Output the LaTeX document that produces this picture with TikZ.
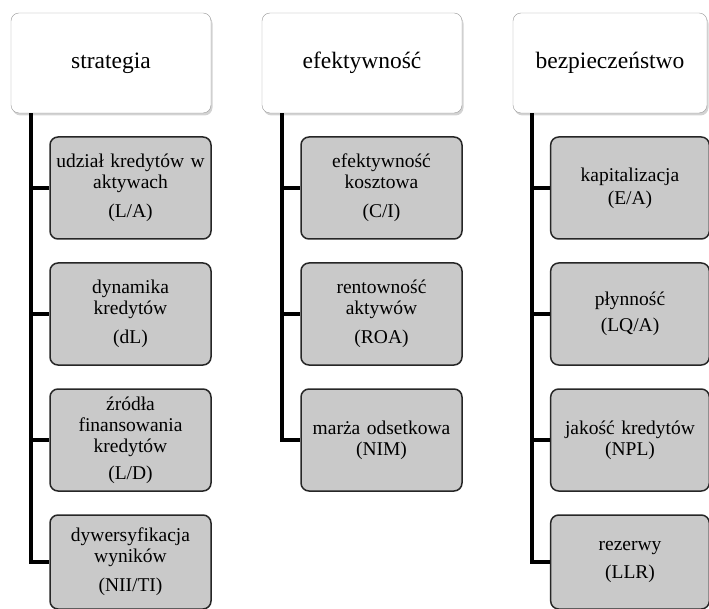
\documentclass[tikz,border=0pt]{standalone}
\usepackage{fontspec}
\setmainfont{Liberation Serif}
\usetikzlibrary{arrows, shapes, positioning, shadows}

\begin{document}
\begin{tikzpicture}[x=1pt, y=1pt]
        \tikzstyle{head} = [draw=black!40, fill=white, rounded corners=8pt, minimum
        width=200pt, minimum height=100pt, font=\fontsize{23.5}{27}\selectfont,
        drop shadow={shadow xshift=1.5pt, shadow yshift=-2.5pt, opacity=0.35}]
        \tikzstyle{block} = [draw=black!85, fill=black!21, line width=1.5pt, rounded corners=8pt,
        minimum width=161pt, minimum height=102pt, text width=152pt, align=center,
        font=\fontsize{19.5}{21}\selectfont, node distance=126pt]
        \useasboundingbox (0,0) rectangle (709,-609);
        %Creating Blocks
        \node [head] at (111,-63) (strategia) {strategia};
        \node [head] at (362,-63) (efekt) {efektywność};
        \node [head, minimum width=194pt] at (610,-63) (bezp) {bezpieczeństwo};

        \node [block] at (130.5,-188) (udzial) {udział kredytów w\\ aktywach\\[8pt] (L/A)};
        \node [block, below of=udzial] (dynamika) {dynamika\\ kredytów\\[8pt] (dL)};
        \node [block, below of=dynamika] (zrodla) {źródła\\ finansowania\\ kredytów\\[6pt] (L/D)};
        \node [block, below of=zrodla, minimum height=94pt, yshift=4pt] (dywers) {dywersyfikacja\\ wyników\\[8pt] (NII/TI)};

        \node [block] at (381.5,-188) (koszt) {efektywność\\ kosztowa\\[8pt] (C/I)};
        \node [block, below of=koszt] (roa) {rentowność\\ aktywów\\[8pt] (ROA)};
        \node [block, below of=roa] (marza) {marża odsetkowa\\ (NIM)};

        \node [block, minimum width=154pt] at (630,-188) (kapital) {kapitalizacja\\[2pt] (E/A)};
        \node [block, minimum width=154pt, below of=kapital] (plynnosc) {płynność\\[5pt] (LQ/A)};
        \node [block, minimum width=154pt, below of=plynnosc] (jakosc) {jakość kredytów\\ (NPL)};
        \node [block, minimum width=154pt, below of=jakosc, minimum height=94pt, yshift=4pt] (rezerwy) {rezerwy\\[7pt] (LLR)};

        \coordinate (s0) at ([xshift=20pt]strategia.south west);
        \coordinate (e0) at ([xshift=20pt]efekt.south west);
        \coordinate (b0) at ([xshift=19pt]bezp.south west);
        %Connecting Blocks
        \begin{scope}[line width=4pt]
            \draw (s0) |- (udzial.west);
            \draw (s0) |- (dynamika.west);
            \draw (s0) |- (zrodla.west);
            \draw (s0) |- (dywers.west);
            \draw (e0) |- (koszt.west);
            \draw (e0) |- (roa.west);
            \draw (e0) |- (marza.west);
            \draw (b0) |- (kapital.west);
            \draw (b0) |- (plynnosc.west);
            \draw (b0) |- (jakosc.west);
            \draw (b0) |- (rezerwy.west);
        \end{scope}
    \end{tikzpicture}
\end{document}
